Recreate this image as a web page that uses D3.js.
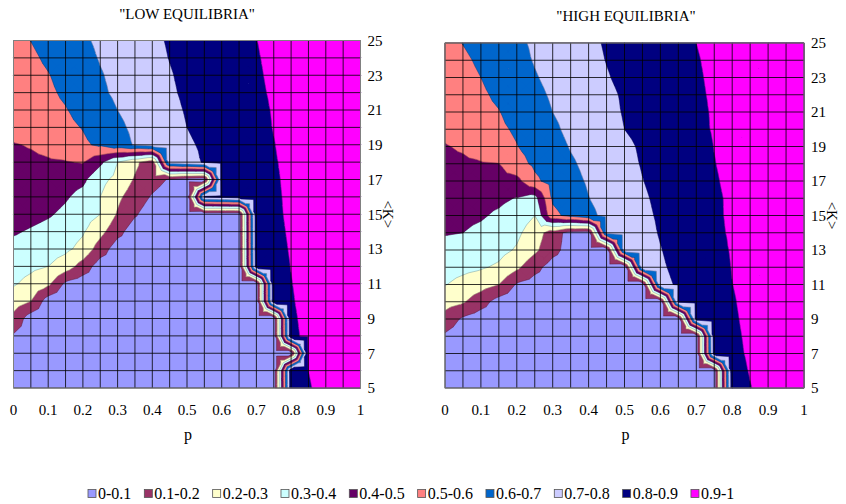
<!DOCTYPE html>
<html>
<head>
<meta charset="utf-8">
<script src="https://cdn.jsdelivr.net/npm/d3@7"></script>
<style>
body { margin: 0; background: #fff; }
</style>
</head>
<body>
<svg id="chart" width="846" height="504" font-family="'Liberation Serif', 'DejaVu Serif', serif"></svg>
<script>
// grid of the surface: p along x, <K> along y
var pGrid = [0, 0.05, 0.1, 0.15, 0.2, 0.25, 0.3, 0.35, 0.4, 0.45, 0.5, 0.55, 0.6, 0.65, 0.7, 0.75, 0.8, 0.85, 0.9, 0.95, 1];
var kGrid = [5, 6, 7, 8, 9, 10, 11, 12, 13, 14, 15, 16, 17, 18, 19, 20, 21, 22, 23, 24, 25];
var pTicks = [0, 0.1, 0.2, 0.3, 0.4, 0.5, 0.6, 0.7, 0.8, 0.9, 1];
var kTicks = [5, 7, 9, 11, 13, 15, 17, 19, 21, 23, 25];

var thresholds = [0.1, 0.2, 0.3, 0.4, 0.5, 0.6, 0.7, 0.8, 0.9];
var bandLabels = ['0-0.1', '0.1-0.2', '0.2-0.3', '0.3-0.4', '0.4-0.5', '0.5-0.6', '0.6-0.7', '0.7-0.8', '0.8-0.9', '0.9-1'];
var bandColors = ['#9999FF', '#993366', '#FFFFCC', '#CCFFFF', '#660066', '#FF8080', '#0066CC', '#CCCCFF', '#000080', '#FF00FF'];

// one row per <K> (5 .. 25), one value per p (0 .. 1)
var lowEquilibria = [
	[0.05, 0.04, 0.04, 0.03, 0.03, 0.03, 0.03, 0.03, 0.03, 0.03, 0.03, 0.03, 0.03, 0.03, 0.03, 0.03, 0.871, 0.894, 0.924, 0.957, 0.99],
	[0.06, 0.045, 0.04, 0.035, 0.03, 0.03, 0.03, 0.03, 0.03, 0.03, 0.03, 0.03, 0.03, 0.03, 0.03, 0.03, 0.878, 0.9, 0.93, 0.96, 0.99],
	[0.07, 0.05, 0.04, 0.04, 0.035, 0.03, 0.03, 0.03, 0.03, 0.03, 0.03, 0.03, 0.03, 0.03, 0.03, 0.03, 0.03, 0.907, 0.934, 0.962, 0.99],
	[0.09, 0.055, 0.045, 0.04, 0.035, 0.03, 0.03, 0.03, 0.03, 0.03, 0.03, 0.03, 0.03, 0.03, 0.03, 0.03, 0.888, 0.912, 0.938, 0.964, 0.99],
	[0.17, 0.05, 0.045, 0.04, 0.035, 0.03, 0.03, 0.03, 0.03, 0.03, 0.03, 0.03, 0.03, 0.03, 0.03, 0.03, 0.891, 0.915, 0.94, 0.965, 0.99],
	[0.25, 0.2, 0.05, 0.045, 0.04, 0.035, 0.03, 0.03, 0.03, 0.03, 0.03, 0.03, 0.03, 0.03, 0.03, 0.872, 0.895, 0.918, 0.942, 0.966, 0.99],
	[0.31, 0.27, 0.22, 0.08, 0.045, 0.04, 0.035, 0.03, 0.03, 0.03, 0.03, 0.03, 0.03, 0.03, 0.03, 0.875, 0.898, 0.92, 0.944, 0.967, 0.99],
	[0.34, 0.32, 0.3, 0.25, 0.157, 0.05, 0.045, 0.04, 0.035, 0.03, 0.03, 0.03, 0.03, 0.03, 0.856, 0.879, 0.901, 0.924, 0.946, 0.968, 0.99],
	[0.37, 0.36, 0.34, 0.32, 0.27, 0.15, 0.05, 0.045, 0.04, 0.035, 0.03, 0.03, 0.03, 0.03, 0.86, 0.882, 0.904, 0.926, 0.947, 0.969, 0.99],
	[0.41, 0.39, 0.37, 0.35, 0.31, 0.23, 0.13, 0.05, 0.045, 0.04, 0.035, 0.03, 0.03, 0.03, 0.863, 0.885, 0.907, 0.928, 0.948, 0.969, 0.99],
	[0.45, 0.43, 0.41, 0.38, 0.34, 0.3, 0.19, 0.11, 0.05, 0.045, 0.04, 0.035, 0.03, 0.03, 0.866, 0.888, 0.91, 0.93, 0.95, 0.97, 0.99],
	[0.47, 0.46, 0.44, 0.41, 0.37, 0.3, 0.22, 0.15, 0.09, 0.05, 0.04, 0.81, 0.823, 0.845, 0.868, 0.89, 0.911, 0.93, 0.95, 0.97, 0.99],
	[0.48, 0.47, 0.46, 0.44, 0.42, 0.33, 0.27, 0.19, 0.14, 0.09, 0.05, 0.04, 0.825, 0.847, 0.87, 0.892, 0.913, 0.932, 0.951, 0.971, 0.99],
	[0.48, 0.485, 0.49, 0.495, 0.505, 0.42, 0.3, 0.22, 0.14, 0.75, 0.778, 0.805, 0.827, 0.85, 0.872, 0.895, 0.915, 0.935, 0.95, 0.97, 0.99],
	[0.495, 0.505, 0.525, 0.55, 0.585, 0.615, 0.665, 0.706, 0.735, 0.76, 0.79, 0.81, 0.83, 0.855, 0.877, 0.898, 0.92, 0.94, 0.955, 0.972, 0.99],
	[0.53, 0.545, 0.56, 0.58, 0.604, 0.643, 0.683, 0.716, 0.744, 0.772, 0.8, 0.82, 0.84, 0.861, 0.881, 0.902, 0.92, 0.94, 0.955, 0.973, 0.99],
	[0.54, 0.56, 0.575, 0.595, 0.629, 0.664, 0.7, 0.727, 0.754, 0.781, 0.806, 0.826, 0.846, 0.866, 0.885, 0.904, 0.922, 0.94, 0.956, 0.973, 0.99],
	[0.55, 0.565, 0.585, 0.614, 0.65, 0.686, 0.715, 0.74, 0.765, 0.79, 0.812, 0.831, 0.851, 0.87, 0.89, 0.907, 0.924, 0.941, 0.957, 0.974, 0.99],
	[0.555, 0.573, 0.596, 0.629, 0.661, 0.694, 0.72, 0.745, 0.77, 0.795, 0.816, 0.835, 0.854, 0.874, 0.893, 0.91, 0.926, 0.942, 0.958, 0.974, 0.99],
	[0.56, 0.585, 0.614, 0.645, 0.675, 0.705, 0.729, 0.754, 0.778, 0.802, 0.821, 0.84, 0.858, 0.877, 0.896, 0.912, 0.928, 0.944, 0.959, 0.975, 0.99],
	[0.572, 0.601, 0.63, 0.659, 0.688, 0.714, 0.738, 0.761, 0.785, 0.807, 0.825, 0.844, 0.862, 0.881, 0.899, 0.916, 0.933, 0.949, 0.966, 0.983, 0.99]
];

var highEquilibria = [
	[0.05, 0.04, 0.04, 0.035, 0.03, 0.03, 0.03, 0.03, 0.03, 0.03, 0.03, 0.03, 0.03, 0.03, 0.03, 0.03, 0.862, 0.897, 0.928, 0.959, 0.99],
	[0.06, 0.045, 0.04, 0.035, 0.03, 0.03, 0.03, 0.03, 0.03, 0.03, 0.03, 0.03, 0.03, 0.03, 0.03, 0.03, 0.87, 0.904, 0.933, 0.962, 0.99],
	[0.07, 0.05, 0.04, 0.035, 0.03, 0.03, 0.03, 0.03, 0.03, 0.03, 0.03, 0.03, 0.03, 0.03, 0.03, 0.848, 0.88, 0.91, 0.937, 0.963, 0.99],
	[0.085, 0.05, 0.04, 0.035, 0.03, 0.03, 0.03, 0.03, 0.03, 0.03, 0.03, 0.03, 0.03, 0.03, 0.03, 0.853, 0.885, 0.913, 0.939, 0.964, 0.99],
	[0.159, 0.085, 0.05, 0.04, 0.035, 0.03, 0.03, 0.03, 0.03, 0.03, 0.03, 0.03, 0.03, 0.03, 0.826, 0.858, 0.89, 0.916, 0.941, 0.965, 0.99],
	[0.242, 0.21, 0.14, 0.06, 0.05, 0.04, 0.035, 0.03, 0.03, 0.03, 0.03, 0.03, 0.03, 0.81, 0.831, 0.863, 0.894, 0.919, 0.943, 0.966, 0.99],
	[0.304, 0.27, 0.24, 0.2, 0.09, 0.06, 0.05, 0.04, 0.035, 0.03, 0.03, 0.03, 0.78, 0.808, 0.839, 0.869, 0.899, 0.922, 0.945, 0.967, 0.99],
	[0.339, 0.325, 0.31, 0.285, 0.22, 0.13, 0.06, 0.05, 0.04, 0.035, 0.03, 0.76, 0.79, 0.817, 0.846, 0.874, 0.902, 0.924, 0.946, 0.968, 0.99],
	[0.375, 0.37, 0.355, 0.33, 0.29, 0.22, 0.13, 0.06, 0.05, 0.04, 0.74, 0.77, 0.797, 0.825, 0.852, 0.879, 0.905, 0.926, 0.947, 0.969, 0.99],
	[0.405, 0.4, 0.38, 0.355, 0.32, 0.25, 0.15, 0.06, 0.05, 0.712, 0.743, 0.774, 0.805, 0.832, 0.859, 0.886, 0.908, 0.929, 0.949, 0.97, 0.99],
	[0.424, 0.42, 0.41, 0.385, 0.35, 0.3, 0.575, 0.627, 0.68, 0.72, 0.752, 0.783, 0.81, 0.833, 0.862, 0.889, 0.91, 0.93, 0.95, 0.97, 0.99],
	[0.443, 0.44, 0.43, 0.42, 0.395, 0.36, 0.613, 0.655, 0.698, 0.729, 0.759, 0.79, 0.815, 0.84, 0.864, 0.89, 0.91, 0.93, 0.95, 0.97, 0.99],
	[0.46, 0.465, 0.47, 0.475, 0.47, 0.58, 0.637, 0.674, 0.709, 0.739, 0.768, 0.798, 0.822, 0.845, 0.869, 0.894, 0.914, 0.934, 0.952, 0.971, 0.99],
	[0.48, 0.485, 0.493, 0.498, 0.566, 0.617, 0.653, 0.689, 0.72, 0.749, 0.777, 0.805, 0.827, 0.849, 0.874, 0.898, 0.917, 0.935, 0.953, 0.972, 0.99],
	[0.495, 0.51, 0.54, 0.57, 0.597, 0.632, 0.668, 0.705, 0.73, 0.757, 0.784, 0.81, 0.83, 0.852, 0.875, 0.901, 0.92, 0.94, 0.955, 0.973, 0.99],
	[0.52, 0.54, 0.56, 0.585, 0.611, 0.646, 0.684, 0.72, 0.745, 0.772, 0.8, 0.82, 0.841, 0.862, 0.884, 0.905, 0.922, 0.94, 0.955, 0.973, 0.99],
	[0.54, 0.56, 0.58, 0.597, 0.632, 0.666, 0.7, 0.727, 0.753, 0.779, 0.805, 0.826, 0.846, 0.867, 0.886, 0.906, 0.923, 0.94, 0.956, 0.973, 0.99],
	[0.55, 0.568, 0.588, 0.614, 0.647, 0.68, 0.71, 0.735, 0.76, 0.785, 0.808, 0.828, 0.849, 0.87, 0.89, 0.908, 0.925, 0.942, 0.958, 0.974, 0.99],
	[0.555, 0.573, 0.6, 0.63, 0.661, 0.694, 0.72, 0.745, 0.77, 0.795, 0.816, 0.835, 0.854, 0.874, 0.893, 0.91, 0.926, 0.942, 0.958, 0.974, 0.99],
	[0.56, 0.585, 0.614, 0.645, 0.675, 0.705, 0.729, 0.754, 0.778, 0.802, 0.821, 0.84, 0.858, 0.877, 0.896, 0.912, 0.928, 0.944, 0.959, 0.975, 0.99],
	[0.57, 0.602, 0.63, 0.657, 0.685, 0.711, 0.735, 0.76, 0.784, 0.807, 0.825, 0.844, 0.863, 0.881, 0.9, 0.915, 0.93, 0.945, 0.96, 0.975, 0.99]
];

var svg = d3.select('#chart');

var panels = [
	{ id: 'low', title: '"LOW EQUILIBRIA"', rows: lowEquilibria,
		left: 13.5, right: 360.5, top: 40.5, bottom: 388, titleX: 187, titleY: 19 },
	{ id: 'high', title: '"HIGH EQUILIBRIA"', rows: highEquilibria,
		left: 445, right: 804, top: 43, bottom: 388, titleX: 626, titleY: 21 }
];

// each grid cell is split in four triangles round its centre (mean of corners),
// the way a spreadsheet surface chart shades its contour bands
function cellTriangles(rows) {
	var tris = [];
	for (var j = 0; j < kGrid.length - 1; j++) {
		for (var i = 0; i < pGrid.length - 1; i++) {
			var a = { p: pGrid[i], k: kGrid[j], v: rows[j][i] };
			var b = { p: pGrid[i + 1], k: kGrid[j], v: rows[j][i + 1] };
			var c = { p: pGrid[i + 1], k: kGrid[j + 1], v: rows[j + 1][i + 1] };
			var d = { p: pGrid[i], k: kGrid[j + 1], v: rows[j + 1][i] };
			var m = { p: (a.p + b.p) / 2, k: (a.k + d.k) / 2, v: (a.v + b.v + c.v + d.v) / 4 };
			tris.push([a, b, m], [b, c, m], [c, d, m], [d, a, m]);
		}
	}
	return tris;
}

function cut(a, b, t) {
	var f = (t - a.v) / (b.v - a.v);
	return { p: a.p + f * (b.p - a.p), k: a.k + f * (b.k - a.k), v: t };
}

// part of a triangle where the surface is at or above t
function above(poly, t) {
	var out = [];
	for (var n = 0; n < poly.length; n++) {
		var a = poly[n], b = poly[(n + 1) % poly.length];
		var ain = a.v >= t, bin = b.v >= t;
		if (ain) out.push(a);
		if (ain !== bin) out.push(cut(a, b, t));
	}
	return out;
}

function drawPanel(panel) {
	var xScale = d3.scaleLinear()
		.domain([pGrid[0], pGrid[pGrid.length - 1]])
		.range([panel.left, panel.right]);

	var yScale = d3.scaleLinear()
		.domain([kGrid[0], kGrid[kGrid.length - 1]])
		.range([panel.bottom, panel.top]);

	var tris = cellTriangles(panel.rows);

	function ring(poly) {
		var path = d3.path();
		poly.forEach(function(pt, n) {
			if (n === 0) path.moveTo(xScale(pt.p), yScale(pt.k));
			else path.lineTo(xScale(pt.p), yScale(pt.k));
		});
		path.closePath();
		return path.toString();
	}

	var layers = thresholds.map(function(t, n) {
		var d = '';
		var lines = d3.path();
		tris.forEach(function(tri) {
			var poly = above(tri, t);
			if (poly.length >= 3) d += ring(poly);
			var pts = [];
			for (var e = 0; e < 3; e++) {
				var a = tri[e], b = tri[(e + 1) % 3];
				if ((a.v >= t) !== (b.v >= t)) pts.push(cut(a, b, t));
			}
			if (pts.length === 2) {
				lines.moveTo(xScale(pts[0].p), yScale(pts[0].k));
				lines.lineTo(xScale(pts[1].p), yScale(pts[1].k));
			}
		});
		return { fill: d, edge: lines.toString(), color: bandColors[n + 1] };
	});

	var plot = svg.append('g');

	plot.append('rect')
		.attr('x', panel.left)
		.attr('y', panel.top)
		.attr('width', panel.right - panel.left)
		.attr('height', panel.bottom - panel.top)
		.attr('fill', bandColors[0]);

	plot.selectAll('path.band')
		.data(layers)
		.enter()
		.append('path')
		.attr('class', 'band')
		.attr('d', function(d) { return d.fill; })
		.attr('fill', function(d) { return d.color; })
		.attr('stroke', function(d) { return d.color; })
		.attr('stroke-width', 0.4)
		.attr('stroke-linejoin', 'round');

	plot.selectAll('path.edge')
		.data(layers)
		.enter()
		.append('path')
		.attr('class', 'edge')
		.attr('d', function(d) { return d.edge; })
		.attr('fill', 'none')
		.attr('stroke', '#000')
		.attr('stroke-width', 0.5)
		.attr('stroke-opacity', 0.4);

	// grid lines on every data row / column
	plot.selectAll('line.vgrid')
		.data(pGrid)
		.enter()
		.append('line')
		.attr('x1', function(d) { return xScale(d); })
		.attr('x2', function(d) { return xScale(d); })
		.attr('y1', panel.top)
		.attr('y2', panel.bottom)
		.attr('stroke', '#000')
		.attr('stroke-opacity', 0.8)
		.attr('stroke-width', 1);

	plot.selectAll('line.hgrid')
		.data(kGrid)
		.enter()
		.append('line')
		.attr('x1', panel.left)
		.attr('x2', panel.right)
		.attr('y1', function(d) { return yScale(d); })
		.attr('y2', function(d) { return yScale(d); })
		.attr('stroke', '#000')
		.attr('stroke-opacity', 0.8)
		.attr('stroke-width', 1);

	svg.append('rect')
		.attr('x', panel.left)
		.attr('y', panel.top)
		.attr('width', panel.right - panel.left)
		.attr('height', panel.bottom - panel.top)
		.attr('fill', 'none')
		.attr('stroke', '#808080')
		.attr('stroke-width', 1);

	// x tick labels
	svg.append('g')
		.selectAll('text')
		.data(pTicks)
		.enter()
		.append('text')
		.attr('x', function(d) { return xScale(d); })
		.attr('y', panel.bottom + 27)
		.attr('text-anchor', 'middle')
		.style('font-size', '15px')
		.text(function(d) { return d; });

	// y tick labels on the right
	svg.append('g')
		.selectAll('text')
		.data(kTicks)
		.enter()
		.append('text')
		.attr('x', panel.right + 7)
		.attr('y', function(d) { return yScale(d); })
		.attr('dy', '0.35em')
		.style('font-size', '15px')
		.text(function(d) { return d; });

	svg.append('text')
		.attr('x', panel.titleX)
		.attr('y', panel.titleY)
		.attr('text-anchor', 'middle')
		.style('font-size', '15px')
		.text(panel.title);

	svg.append('text')
		.attr('x', (panel.left + panel.right) / 2 + 1)
		.attr('y', panel.bottom + 52)
		.attr('text-anchor', 'middle')
		.style('font-size', '16px')
		.text('p');

	var kx = panel.right + 28;
	var ky = yScale(15);
	svg.append('text')
		.attr('transform', 'translate(' + kx + ',' + ky + ') rotate(90)')
		.attr('text-anchor', 'middle')
		.attr('dy', '0.35em')
		.style('font-size', '15px')
		.text('<K>');
}

panels.forEach(drawPanel);

// legend
var legend = svg.append('g');
var cursor = 88;
bandLabels.forEach(function(label, i) {
	legend.append('rect')
		.attr('x', cursor)
		.attr('y', 489.5)
		.attr('width', 8)
		.attr('height', 8)
		.attr('fill', bandColors[i])
		.attr('stroke', '#555')
		.attr('stroke-width', 0.8);
	var t = legend.append('text')
		.attr('x', cursor + 10)
		.attr('y', 499)
		.style('font-size', '16px')
		.text(label);
	cursor += 10 + t.node().getComputedTextLength() + 13;
});
</script>
</body>
</html>
